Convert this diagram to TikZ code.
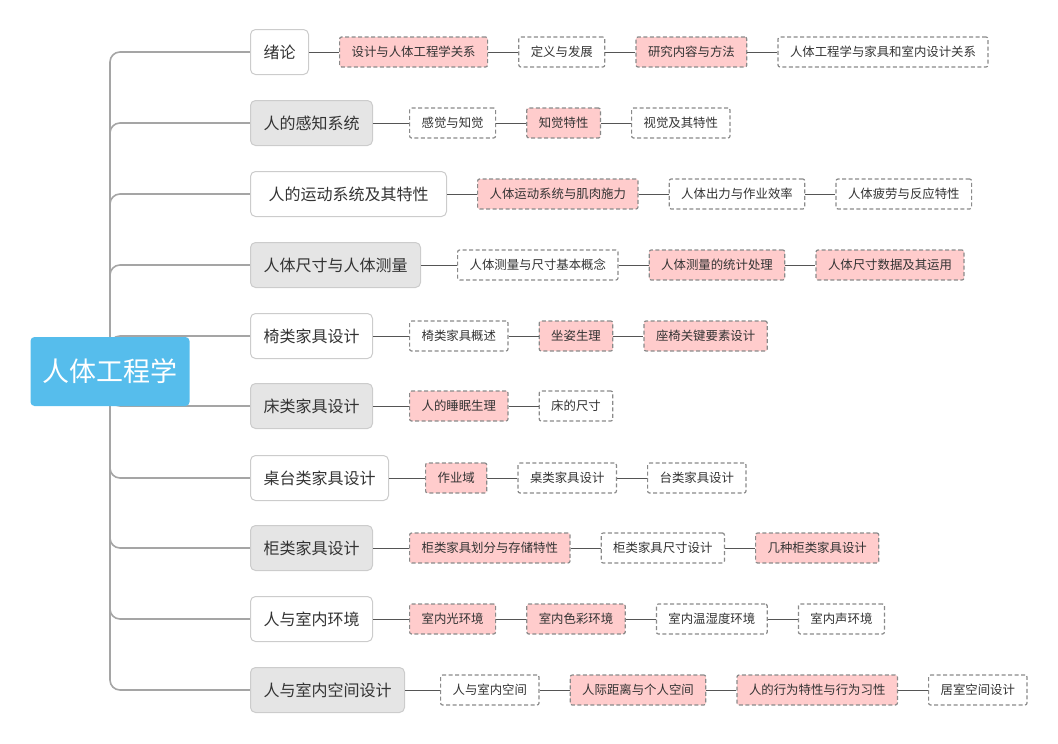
\documentclass[tikz,border=0pt]{standalone}
\usepackage{fontspec}
\setmainfont{Noto Sans CJK SC}
\usetikzlibrary{positioning,backgrounds}
\usepackage{xcolor}
\definecolor{rootblue}{HTML}{56BDEC}
\definecolor{pinkfill}{HTML}{FFCCCC}
\definecolor{topicgray}{HTML}{E5E5E5}
\definecolor{edgegray}{HTML}{CCCCCC}
\definecolor{dashgray}{HTML}{8A8A8A}
\definecolor{linkgray}{HTML}{555555}
\definecolor{branchgray}{HTML}{A5A5A5}
\definecolor{txt}{HTML}{333333}

\begin{document}
\begin{tikzpicture}[
  x=1pt, y=-1pt, node distance=30pt,
  root/.style={rectangle, rounded corners=4pt, fill=rootblue, text=white, font=\fontsize{27}{32}\selectfont, minimum width=159pt, minimum height=69pt},
  topic/.style={draw=edgegray, line width=1pt, rectangle, rounded corners=5pt, fill=white, text=txt, font=\fontsize{16}{20}\selectfont, minimum height=45pt, inner xsep=13pt, anchor=west},
  topicg/.style={topic, fill=topicgray},
  leaf/.style={draw=dashgray, line width=1.2pt, dash pattern=on 4pt off 2.5pt, rectangle, rounded corners=2pt, fill=white, text=txt, font=\fontsize{12.4}{15}\selectfont, minimum height=30pt, inner xsep=12pt},
  leafp/.style={leaf, fill=pinkfill},
  link/.style={draw=linkgray, line width=1pt},
  branch/.style={draw=branchgray, line width=1.6pt, rounded corners=10pt}
]
\useasboundingbox (0,0) rectangle (1058,744);

\node[root] (root) at (110,371.5) {人体工程学};

\node[topic]  (m1)  at (250,52)  {绪论};
\node[topicg] (m2)  at (250,123) {人的感知系统};
\node[topic, minimum width=196pt] (m3) at (250,194) {人的运动系统及其特性};
\node[topicg] (m4)  at (250,265) {人体尺寸与人体测量};
\node[topic]  (m5)  at (250,336) {椅类家具设计};
\node[topicg] (m6)  at (250,406) {床类家具设计};
\node[topic]  (m7)  at (250,478) {桌台类家具设计};
\node[topicg] (m8)  at (250,548) {柜类家具设计};
\node[topic]  (m9)  at (250,619) {人与室内环境};
\node[topicg] (m10) at (250,690) {人与室内空间设计};

\node[leafp, right=of m1] (s1a) {设计与人体工程学关系};
\node[leaf,  right=of s1a] (s1b) {定义与发展};
\node[leafp, right=of s1b] (s1c) {研究内容与方法};
\node[leaf,  right=of s1c] (s1d) {人体工程学与家具和室内设计关系};

\node[leaf,  right=36pt of m2] (s2a) {感觉与知觉};
\node[leafp, right=of s2a] (s2b) {知觉特性};
\node[leaf,  right=of s2b] (s2c) {视觉及其特性};

\node[leafp, right=of m3] (s3a) {人体运动系统与肌肉施力};
\node[leaf,  right=of s3a] (s3b) {人体出力与作业效率};
\node[leaf,  right=of s3b] (s3c) {人体疲劳与反应特性};

\node[leaf,  right=36pt of m4] (s4a) {人体测量与尺寸基本概念};
\node[leafp, right=of s4a] (s4b) {人体测量的统计处理};
\node[leafp, right=of s4b] (s4c) {人体尺寸数据及其运用};

\node[leaf,  right=36pt of m5] (s5a) {椅类家具概述};
\node[leafp, right=of s5a] (s5b) {坐姿生理};
\node[leafp, right=of s5b] (s5c) {座椅关键要素设计};

\node[leafp, right=36pt of m6] (s6a) {人的睡眠生理};
\node[leaf,  right=of s6a] (s6b) {床的尺寸};

\node[leafp, right=36pt of m7] (s7a) {作业域};
\node[leaf,  right=of s7a] (s7b) {桌类家具设计};
\node[leaf,  right=of s7b] (s7c) {台类家具设计};

\node[leafp, right=36pt of m8] (s8a) {柜类家具划分与存储特性};
\node[leaf,  right=of s8a] (s8b) {柜类家具尺寸设计};
\node[leafp, right=of s8b] (s8c) {几种柜类家具设计};

\node[leafp, right=36pt of m9] (s9a) {室内光环境};
\node[leafp, right=of s9a] (s9b) {室内色彩环境};
\node[leaf,  right=of s9b] (s9c) {室内温湿度环境};
\node[leaf,  right=of s9c] (s9d) {室内声环境};

\node[leaf,  right=35pt of m10] (s10a) {人与室内空间};
\node[leafp, right=of s10a] (s10b) {人际距离与个人空间};
\node[leafp, right=of s10b] (s10c) {人的行为特性与行为习性};
\node[leaf,  right=of s10c] (s10d) {居室空间设计};

\begin{scope}[on background layer]
\draw[branch] (root.center) |- (m1.west);
\draw[branch] (root.center) |- (m2.west);
\draw[branch] (root.center) |- (m3.west);
\draw[branch] (root.center) |- (m4.west);
\draw[branch] (root.center) |- (m5.west);
\draw[branch] (root.center) |- (m6.west);
\draw[branch] (root.center) |- (m7.west);
\draw[branch] (root.center) |- (m8.west);
\draw[branch] (root.center) |- (m9.west);
\draw[branch] (root.center) |- (m10.west);
\end{scope}

\draw[link] (m1) -- (s1a) -- (s1b) -- (s1c) -- (s1d);
\draw[link] (m2) -- (s2a) -- (s2b) -- (s2c);
\draw[link] (m3) -- (s3a) -- (s3b) -- (s3c);
\draw[link] (m4) -- (s4a) -- (s4b) -- (s4c);
\draw[link] (m5) -- (s5a) -- (s5b) -- (s5c);
\draw[link] (m6) -- (s6a) -- (s6b);
\draw[link] (m7) -- (s7a) -- (s7b) -- (s7c);
\draw[link] (m8) -- (s8a) -- (s8b) -- (s8c);
\draw[link] (m9) -- (s9a) -- (s9b) -- (s9c) -- (s9d);
\draw[link] (m10) -- (s10a) -- (s10b) -- (s10c) -- (s10d);
\end{tikzpicture}
\end{document}
